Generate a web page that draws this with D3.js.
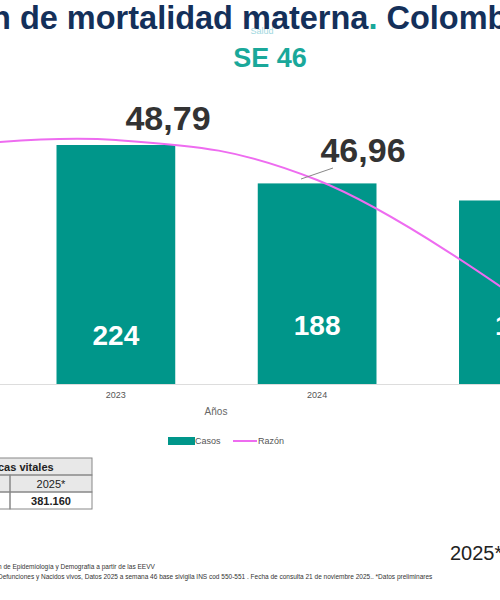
<!DOCTYPE html><html><head><meta charset="utf-8"><script src="https://cdn.jsdelivr.net/npm/d3@7"></script>
<style>body{margin:0;background:#fff}text{font-family:Arial,"Liberation Sans",sans-serif}</style></head><body>
<script>
const years=["2022","2023","2024","2025"];
const casos=[null,224,188,172];
const razon=[48.3,48.79,46.96,41.5];
const razonLabels=[null,"48,79","46,96",null];
const W=500,H=600;
const svg=d3.select("body").append("svg").attr("width",W).attr("height",H);
const x=d3.scaleBand().domain(years).range([-185,618]).paddingInner(0.41).paddingOuter(0.2);
const y=d3.scaleLinear().domain([0,224]).range([384,145]);
const y2=d3.scaleLinear().domain([46.96,48.79]).range([180,140]);
// title
const t=svg.append("text").attr("x",-9).attr("y",29).attr("font-size",32.5).attr("font-weight","bold").attr("fill","#14305a");
t.append("tspan").text("n de mortalidad materna");t.append("tspan").attr("fill","#1aa89a").text(".");t.append("tspan").text(" Colombia");
svg.append("text").attr("x",262).attr("y",34).attr("font-size",9).attr("fill","#9fd8e0").attr("text-anchor","middle").text("Salud");
svg.append("text").attr("x",270).attr("y",67).attr("font-size",27).attr("font-weight","bold").attr("fill","#1aa89a").attr("text-anchor","middle").text("SE 46");
// baseline
svg.append("line").attr("x1",0).attr("x2",W).attr("y1",384.5).attr("y2",384.5).attr("stroke","#ddd");
const idx=[1,2,3];
svg.selectAll("rect.bar").data(idx).join("rect").attr("x",i=>x(years[i])).attr("width",x.bandwidth()).attr("y",i=>y(casos[i])).attr("height",i=>384-y(casos[i])).attr("fill","#00968a");
svg.selectAll("text.cl").data(idx).join("text").attr("x",i=>x(years[i])+x.bandwidth()/2).attr("y",i=>i==1?345:335).attr("text-anchor","middle").attr("font-size",28).attr("font-weight","bold").attr("fill","#fff").text(i=>casos[i]);
const line=d3.line().x((d,i)=>x(years[i])+x.bandwidth()/2).y(d=>y2(d)).curve(d3.curveCardinal.tension(-0.2));
svg.append("path").attr("d",line(razon)).attr("fill","none").attr("stroke","#ee6cf0").attr("stroke-width",2);
svg.append("line").attr("x1",333).attr("x2",301).attr("y1",168).attr("y2",179).attr("stroke","#888");
svg.append("text").attr("x",168).attr("y",130).attr("text-anchor","middle").attr("font-size",34).attr("font-weight","bold").attr("fill","#333").text(razonLabels[1]);
svg.append("text").attr("x",363).attr("y",162).attr("text-anchor","middle").attr("font-size",34).attr("font-weight","bold").attr("fill","#333").text(razonLabels[2]);
svg.selectAll("text.tk").data(idx).join("text").attr("x",i=>x(years[i])+x.bandwidth()/2).attr("y",398).attr("text-anchor","middle").attr("font-size",9).attr("fill","#555").text(i=>years[i]);
svg.append("text").attr("x",216).attr("y",415).attr("text-anchor","middle").attr("font-size",10).attr("fill","#666").text("Años");
// legend
svg.append("rect").attr("x",168).attr("y",437).attr("width",27).attr("height",8).attr("fill","#00968a");
svg.append("text").attr("x",195).attr("y",444).attr("font-size",9).attr("fill","#555").text("Casos");
svg.append("line").attr("x1",233).attr("x2",257).attr("y1",441).attr("y2",441).attr("stroke","#ee6cf0").attr("stroke-width",2);
svg.append("text").attr("x",258).attr("y",444).attr("font-size",9).attr("fill","#555").text("Razón");
// table
const tb=svg.append("g");
tb.append("rect").attr("x",-5).attr("y",458).attr("width",97).attr("height",34).attr("fill","#e8e8e8");
[[-5,458,97,17],[-5,475,15,17],[10,475,82,17],[-5,492,15,17],[10,492,82,17]].forEach(r=>tb.append("rect").attr("x",r[0]).attr("y",r[1]).attr("width",r[2]).attr("height",r[3]).attr("fill","none").attr("stroke","#888"));
tb.append("text").attr("x",-2).attr("y",471).attr("font-size",11).attr("font-weight","bold").attr("fill","#222").text("cas vitales");
tb.append("text").attr("x",51).attr("y",488).attr("text-anchor","middle").attr("font-size",11).attr("fill","#222").text("2025*");
tb.append("text").attr("x",51).attr("y",505).attr("text-anchor","middle").attr("font-size",11).attr("font-weight","bold").attr("fill","#222").text("381.160");
svg.append("text").attr("x",450).attr("y",560).attr("font-size",20).attr("fill","#222").text("2025*");
svg.append("text").attr("x",-2).attr("y",569).attr("font-size",6.5).attr("fill","#333").text("n de Epidemiología y Demografía a partir de las EEVV");
svg.append("text").attr("x",-2).attr("y",579).attr("font-size",6.5).attr("fill","#333").text("Defunciones y Nacidos vivos, Datos 2025 a semana 46 base sivigila INS cod 550-551 .  Fecha de consulta 21 de noviembre    2025.. *Datos preliminares");
</script></body></html>
